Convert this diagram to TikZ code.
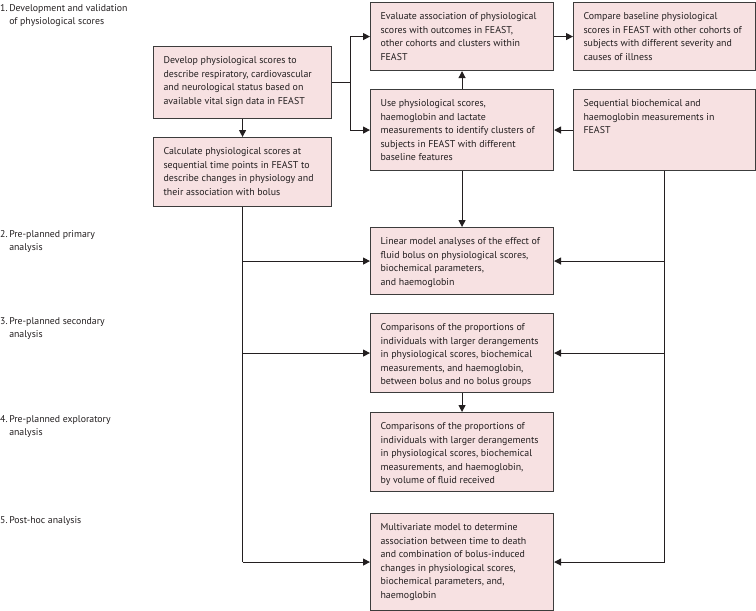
\documentclass[tikz,border=0pt]{standalone}
\usepackage{fontspec}
\setmainfont{PT Sans}
\usetikzlibrary{arrows.meta}
\definecolor{boxfill}{RGB}{247,225,226}
\definecolor{boxline}{RGB}{60,60,60}
\definecolor{ink}{RGB}{35,31,32}
\newcommand{\bt}[3]{\begin{minipage}[t][#2pt][t]{#1pt}\raggedright\strut #3\end{minipage}}
\tikzset{
  stagebox/.style={draw=boxline, fill=boxfill, line width=1.1pt, anchor=north west,
    inner xsep=10pt, inner ysep=7.5pt, font=\fontsize{9.9}{13.5}\selectfont, text=ink},
  lab/.style={anchor=base west, align=left, inner sep=0pt, font=\fontsize{9.8}{13.5}\selectfont, text=ink},
  conn/.style={draw=ink, line width=1.1pt},
  arr/.style={conn, -{Triangle[length=7pt,width=7pt]}}
}
\begin{document}
\begin{tikzpicture}[x=1pt,y=-1pt]
\useasboundingbox (0,0) rectangle (756,611);
% stage labels (base anchor = last line)
\node[lab] (l1) at (0,24.5) {1.\,Development and validation\\\hphantom{1.\,}of physiological scores};
\node[lab] (l2) at (0,250.5) {2.\,Pre-planned primary\\\hphantom{2.\,}analysis};
\node[lab] (l3) at (0,337.5) {3.\,Pre-planned secondary\\\hphantom{3.\,}analysis};
\node[lab] (l4) at (0,435.5) {4.\,Pre-planned exploratory\\\hphantom{4.\,}analysis};
\node[lab] (l5) at (0,523) {5.\,Post-hoc analysis};
% boxes
\node[stagebox] (A) at (153,46) {\bt{158}{57}{Develop physiological scores to\\describe respiratory, cardiovascular\\and neurological status based on\\available vital sign data in FEAST}};
\node[stagebox] (B) at (153,137) {\bt{158}{54}{Calculate physiological scores at\\sequential time points in FEAST to\\describe changes in physiology and\\their association with bolus}};
\node[stagebox] (C) at (370,2) {\bt{163}{53}{Evaluate association of physiological\\scores with outcomes in FEAST,\\other cohorts and clusters within\\FEAST}};
\node[stagebox] (D) at (573,2) {\bt{162}{53}{Compare baseline physiological\\scores in FEAST with other cohorts of\\subjects with different severity and\\causes of illness}};
\node[stagebox] (E) at (370,89) {\bt{163}{66}{Use physiological scores,\\haemoglobin and lactate\\measurements to identify clusters of\\subjects in FEAST with different\\baseline features}};
\node[stagebox] (F) at (573,89) {\bt{162}{66}{Sequential biochemical and\\haemoglobin measurements in\\FEAST}};
\node[stagebox] (L) at (370,227) {\bt{163}{52}{Linear model analyses of the effect of\\fluid bolus on physiological scores,\\biochemical parameters,\\and haemoglobin}};
\node[stagebox] (S) at (370,313) {\bt{163}{64}{Comparisons of the proportions of\\individuals with larger derangements\\in physiological scores, biochemical\\measurements, and haemoglobin,\\between bolus and no bolus groups}};
\node[stagebox] (X) at (370,412) {\bt{163}{64}{Comparisons of the proportions of\\individuals with larger derangements\\in physiological scores, biochemical\\measurements, and haemoglobin,\\by volume of fluid received}};
\node[stagebox] (P) at (370,513) {\bt{163}{82}{Multivariate model to determine\\association between time to death\\and combination of bolus-induced\\changes in physiological scores,\\biochemical parameters, and,\\haemoglobin}};
% connectors
\path (A.east) ++(18,0) coordinate (sp);
\draw[conn] (A.east) -- (sp);
\draw[arr] (sp) |- (C.west);
\draw[arr] (sp) |- (E.west);
\draw[arr] (A.south) -- (B.north);
\draw[arr] (E.north) -- (C.south);
\draw[arr] (C.east) -- (D.west);
\draw[arr] (F.west) -- (E.east);
\draw[arr] (E.south) -- (L.north);
\draw[arr] (S.south) -- (X.north);
% left trunk
\draw[conn] (B.south) -- (B.south |- P.west);
\draw[arr] (B.south |- L.west) -- (L.west);
\draw[arr] (B.south |- S.west) -- (S.west);
\draw[arr] (B.south |- P.west) -- (P.west);
% right trunk
\draw[conn] (F.south) -- (F.south |- P.east);
\draw[arr] (F.south |- L.east) -- (L.east);
\draw[arr] (F.south |- S.east) -- (S.east);
\draw[arr] (F.south |- P.east) -- (P.east);
\end{tikzpicture}
\end{document}
